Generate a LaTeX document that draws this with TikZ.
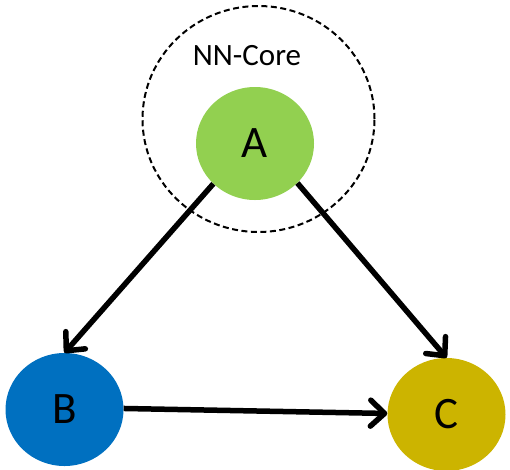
\documentclass[tikz,border=0pt]{standalone}
\usepackage{fontspec}
\setmainfont{Carlito}
\usetikzlibrary{arrows.meta,shapes.geometric,positioning}

\definecolor{agreen}{RGB}{146,208,80}
\definecolor{bblue}{RGB}{0,112,192}
\definecolor{cgold}{RGB}{204,180,0}

\begin{document}
\begin{tikzpicture}[x=1pt,y=-1pt,on grid,
    every node/.style={font=\fontsize{45}{54}\selectfont},
    unit/.style={ellipse,minimum width=118pt,minimum height=113pt,inner sep=0pt},
    link/.style={line width=5.5pt,-{Straight Barb[round,length=14pt,width=26pt]}}]
       \useasboundingbox (0,0) rectangle (510,469);

       \node[unit,fill=agreen] (a) at (255,143.5) {A};
       \node[unit,fill=bblue] (b) [below left=266pt and 190.5pt of a] {B};
       \node[unit,fill=cgold] (c) [below right=271pt and 191.5pt of a] {C};

       % dashed boundary of the core
       \node[ellipse,draw,line width=2pt,dash pattern=on 6pt off 3.5pt,
             minimum width=232pt,minimum height=226pt] (core) [above right=24.5pt and 3.5pt of a] {};
       \node[font=\fontsize{31}{37}\selectfont] (core label) [above left=88pt and 8pt of a] {NN-Core};

       \path[link]
       (a.224) edge (b.90)
       (a.317) edge (c.90)
       (b.1) edge (c.179);

     \end{tikzpicture}
\end{document}
